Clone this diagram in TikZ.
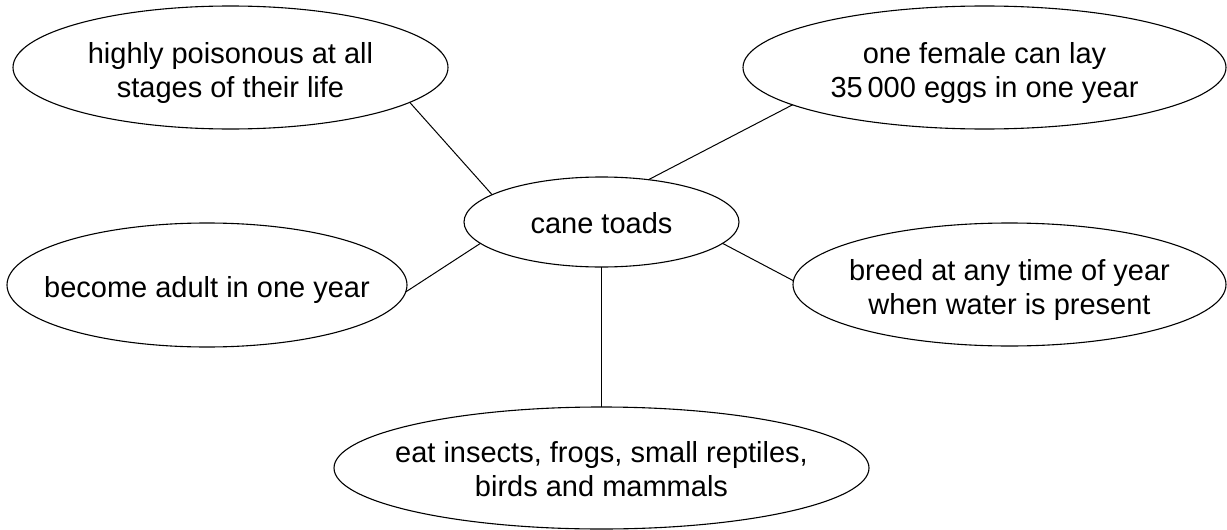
\documentclass[tikz,border=0pt]{standalone}
\usepackage{fontspec}
\setmainfont{Liberation Sans}
\usetikzlibrary{shapes.geometric}
\begin{document}
\begin{tikzpicture}[x=1pt,y=-1pt,
  bubble/.style={draw=black,line width=1.1pt,ellipse,inner sep=0pt,outer sep=0pt},
  words/.style={inner sep=0pt,align=center,font=\fontsize{29}{34}\selectfont},
  link/.style={draw=black,line width=1pt}]
\useasboundingbox (0,0) rectangle (1227,530);
% ellipses
\node[bubble,minimum width=435pt,minimum height=123pt] (poison) at (230.5,67.5) {};
\node[bubble,minimum width=483pt,minimum height=123pt] (eggs) at (984.5,67.5) {};
\node[bubble,minimum width=275pt,minimum height=90pt] (toads) at (601.5,222) {};
\node[bubble,minimum width=400pt,minimum height=124pt] (adult) at (207,285) {};
\node[bubble,minimum width=433pt,minimum height=123pt] (breed) at (1009.5,284.5) {};
\node[bubble,minimum width=535pt,minimum height=122pt] (eat) at (601.5,468) {};
% texts (canvas yshift is upward, so negative moves down)
\node[words] (poisonT) at ([yshift=-5.6pt]poison.center) {highly poisonous at all\\stages of their life};
\node[words] (eggsT) at ([yshift=-5.6pt]eggs.center) {one female can lay\\35\,000 eggs in one year};
\node[words] (toadsT) at ([yshift=-1.5pt]toads.center) {cane toads};
\node[words] (adultT) at ([yshift=-4.5pt]adult.center) {become adult in one year};
\node[words] (breedT) at ([yshift=-5.6pt]breed.center) {breed at any time of year\\when water is present};
\node[words] (eatT) at ([yshift=-1.6pt]eat.center) {eat insects, frogs, small reptiles,\\birds and mammals};
% connectors
\draw[link] (poison.-11.9) -- (toads.166.1);
\draw[link] (eggs.191.6) -- (toads.42.7);
\draw[link] (adult.-2) -- (toads.190.8);
\draw[link] (breed.179.3) -- (toads.-10.8);
\draw[link] (toads.south) -- (eat.north);
\end{tikzpicture}
\end{document}
